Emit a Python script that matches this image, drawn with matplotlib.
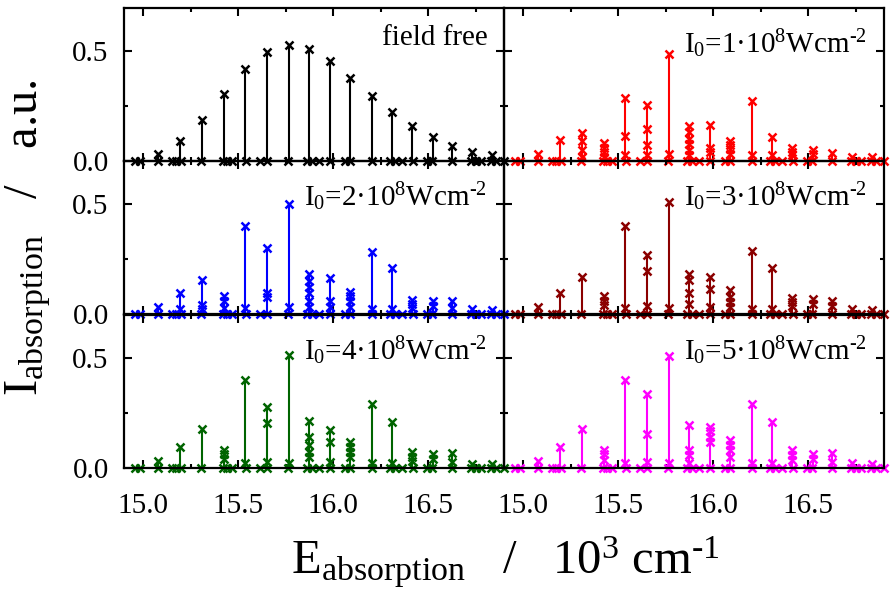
import matplotlib
matplotlib.use('Agg')
import matplotlib.pyplot as plt
from matplotlib.ticker import FixedLocator, NullFormatter

plt.rcParams['font.family'] = ['Liberation Serif', 'DejaVu Serif']
plt.rcParams['mathtext.fontset'] = 'custom'
plt.rcParams['mathtext.rm'] = 'Liberation Serif'
plt.rcParams['mathtext.it'] = 'Liberation Serif:italic'
plt.rcParams['mathtext.bf'] = 'Liberation Serif:bold'

# ---------------- data ----------------
band_x = [15.079, 15.195, 15.310, 15.426, 15.538, 15.653, 15.767, 15.876, 15.983,
          16.092, 16.203, 16.312, 16.418, 16.524, 16.627, 16.733, 16.839]

baseline_x = [14.956, 14.983, 15.079, 15.150, 15.176, 15.202, 15.307, 15.422, 15.440,
              15.466, 15.542, 15.616, 15.651, 15.765, 15.862, 15.888, 15.924, 15.985,
              16.064, 16.091, 16.205, 16.302, 16.328, 16.363, 16.420, 16.495, 16.521,
              16.627, 16.724, 16.750, 16.777, 16.830, 16.856, 16.900]

heights_free = [[0.031], [0.092], [0.188], [0.306], [0.417], [0.497], [0.528], [0.509],
                [0.454], [0.378], [0.295], [0.222], [0.157], [0.107], [0.069], [0.043], [0.028]]

heights_i1 = [[0.03], [0.095], [0.127, 0.09, 0.05, 0.02], [0.081, 0.06, 0.04, 0.02],
              [0.286, 0.112, 0.028], [0.255, 0.145, 0.073, 0.028], [0.485, 0.034],
              [0.16, 0.133, 0.10, 0.076, 0.05, 0.028], [0.165, 0.06, 0.04],
              [0.092, 0.073, 0.054, 0.034], [0.272, 0.028], [0.107, 0.028],
              [0.06, 0.043, 0.028], [0.05, 0.034], [0.038], [0.02], [0.018]]

heights_i2 = [[0.034], [0.095, 0.023], [0.153, 0.041, 0.023], [0.08, 0.057, 0.025],
              [0.40, 0.029], [0.30, 0.095, 0.076], [0.50, 0.034],
              [0.182, 0.148, 0.122, 0.095, 0.057, 0.034], [0.164, 0.06, 0.034],
              [0.10, 0.08, 0.057, 0.034], [0.283, 0.023], [0.21, 0.023],
              [0.064, 0.044, 0.025], [0.057, 0.038], [0.057, 0.025], [0.023], [0.018]]

heights_i3 = [[0.033], [0.097], [0.17], [0.082, 0.06, 0.04], [0.398, 0.025],
              [0.269, 0.196, 0.038], [0.508, 0.025], [0.182, 0.155, 0.097, 0.044],
              [0.166, 0.114, 0.033], [0.11, 0.079, 0.056, 0.033], [0.284, 0.023],
              [0.208, 0.023], [0.074, 0.056, 0.038], [0.068, 0.044], [0.06, 0.038],
              [0.023], [0.018]]

heights_i4 = [[0.032], [0.096], [0.177], [0.081, 0.062, 0.043], [0.40, 0.023],
              [0.279, 0.203, 0.027], [0.512, 0.023], [0.213, 0.142, 0.104, 0.073, 0.05],
              [0.172, 0.119, 0.027], [0.119, 0.096, 0.073, 0.05], [0.291, 0.023],
              [0.207, 0.023], [0.073, 0.05, 0.032], [0.062, 0.043], [0.066, 0.027],
              [0.02], [0.017]]

heights_i5 = [[0.032], [0.095], [0.179], [0.083, 0.062, 0.035], [0.40, 0.023],
              [0.335, 0.153, 0.027], [0.509, 0.023], [0.194, 0.08, 0.061, 0.023],
              [0.186, 0.168, 0.141, 0.118], [0.126, 0.103, 0.08, 0.05], [0.289, 0.023],
              [0.209, 0.023], [0.08, 0.058, 0.035], [0.062, 0.042], [0.068, 0.027],
              [0.023], [0.017]]

panel_labels = ['field free',
                'I$_\\mathrm{0}$=1·10$^\\mathrm{8}$Wcm$^\\text{-2}$',
                'I$_\\mathrm{0}$=2·10$^\\mathrm{8}$Wcm$^\\text{-2}$',
                'I$_\\mathrm{0}$=3·10$^\\mathrm{8}$Wcm$^\\text{-2}$',
                'I$_\\mathrm{0}$=4·10$^\\mathrm{8}$Wcm$^\\text{-2}$',
                'I$_\\mathrm{0}$=5·10$^\\mathrm{8}$Wcm$^\\text{-2}$']
panel_heights = [heights_free, heights_i1, heights_i2, heights_i3, heights_i4, heights_i5]
panel_colors = ['#000000', '#ff0000', '#0000ff', '#8b0000', '#006400', '#ff00ff']

xticks_major = [15.0, 15.5, 16.0, 16.5]
xticks_minor = [15.25, 15.75, 16.25, 16.75]
yticks_major = [0.0, 0.5]
yticks_minor = [0.25]

# ---------------- figure ----------------
W, H = 892, 596
fig = plt.figure(figsize=(W / 100, H / 100), dpi=100)
fig.patch.set_facecolor('white')

col_left = [124, 504]
col_w = 380
row_bottom = [161, 314, 468]
row_h = 153

for k in range(6):
    r, c = divmod(k, 2)
    ax = fig.add_axes([col_left[c] / W, 1 - row_bottom[r] / H, col_w / W, row_h / H])
    ax.patch.set_visible(False)
    col = panel_colors[k]
    hts = panel_heights[k]
    for xb, hs in zip(band_x, hts):
        ax.vlines(xb, 0, max(hs), color=col, lw=1.5, zorder=3)
        ax.plot([xb] * len(hs), hs, ls='none', marker='x', ms=5.8, mew=1.8,
                color=col, clip_on=False, zorder=4)
    ax.plot(baseline_x, [0.0] * len(baseline_x), ls='none', marker='x', ms=5.8,
            mew=1.8, color=col, clip_on=False, zorder=4)
    ax.set_xlim(14.9, 16.9)
    ax.set_ylim(0, 0.695)
    ax.xaxis.set_major_locator(FixedLocator(xticks_major))
    ax.xaxis.set_minor_locator(FixedLocator(xticks_minor))
    ax.yaxis.set_major_locator(FixedLocator(yticks_major))
    ax.yaxis.set_minor_locator(FixedLocator(yticks_minor))
    ax.tick_params(which='both', direction='in', top=True, right=True, width=1.5,
                   labelsize=21, colors='black')
    ax.tick_params(which='major', length=6)
    ax.tick_params(which='minor', length=3)
    ax.tick_params(axis='y', pad=11)
    ax.tick_params(axis='x', pad=18)
    for sp in ax.spines.values():
        sp.set_linewidth(1.6)
        sp.set_zorder(5)
    if c == 0:
        ax.set_yticklabels(['0.0', '0.5'])
    else:
        ax.yaxis.set_major_formatter(NullFormatter())
    if r == 2:
        ax.set_xticklabels(['15.0', '15.5', '16.0', '16.5'])
    else:
        ax.xaxis.set_major_formatter(NullFormatter())
    if k == 0:
        ax.text(0.958, 0.758, panel_labels[k], transform=ax.transAxes, ha='right',
                va='baseline', fontsize=21)
    else:
        ax.text(0.955, 0.706, panel_labels[k], transform=ax.transAxes, ha='right',
                va='baseline', fontsize=21)

fig.text(505 / W, 1 - 574 / H,
         'E$_\\mathrm{absorption}$   /   10$^\\mathrm{3}$ cm$^\\text{-1}$',
         ha='center', va='baseline', fontsize=35)
fig.text(28 / W, 1 - 238 / H,
         'I$_\\mathrm{absorption}$   /   a.u.',
         ha='center', va='center', rotation=90, fontsize=35)

fig.savefig('out.png', dpi=100)
